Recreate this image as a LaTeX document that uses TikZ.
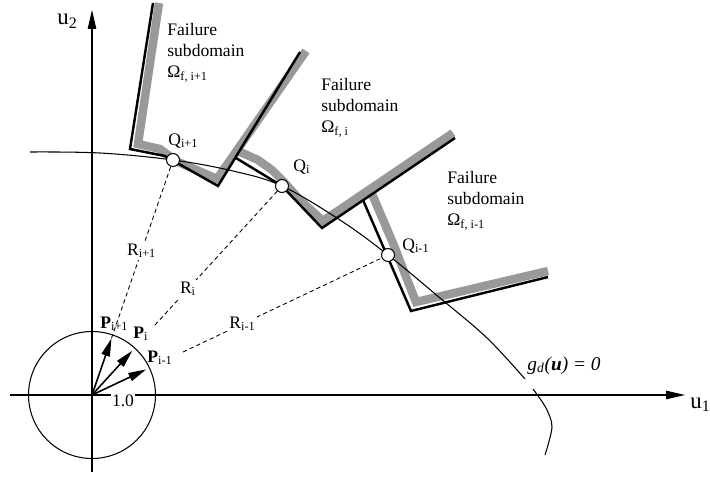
\documentclass[tikz,border=0pt]{standalone}
\usepackage{fontspec}
\setmainfont{Liberation Serif}
\usetikzlibrary{arrows.meta}

\begin{document}
\begin{tikzpicture}[
  x=0.02cm, y=-0.02cm,
  axis/.style={-{Triangle[length=3.8mm,width=1.7mm]}, line width=0.6pt},
  band/.style={line width=4.8pt, black!40},
  edge/.style={line width=1.4pt},
  lsf/.style={line width=0.6pt},
  rline/.style={dash pattern=on 2.4pt off 1.8pt, line width=0.5pt},
  rlab/.style={fill=white, inner sep=1pt},
  pvec/.style={-{Triangle[length=3.6mm,width=1.7mm]}, line width=0.9pt},
  qpt/.style={circle, draw, fill=white, minimum size=0.26cm, inner sep=0pt, line width=0.6pt},
  sublab/.style={anchor=north west, align=left, inner sep=0pt, font=\fontsize{10}{12}\selectfont},
  ptlab/.style={anchor=base west, inner sep=0pt},
  axlab/.style={anchor=base west, inner sep=0pt, font=\fontsize{13}{15}\selectfont}
]
\useasboundingbox (0,0) rectangle (710,490);

% axes
\coordinate (O) at (92,395);
\coordinate (xl) at (10,395);
\coordinate (xr) at (685,395);
\coordinate (yb) at (92,472);
\coordinate (yt) at (92,10);
\draw[axis] (xl) -- (xr);
\draw[axis] (yb) -- (yt);
\node[axlab] (u1) at (690,408) {u\textsubscript{1}};
\node[axlab] (u2) at (57,25) {u\textsubscript{2}};

% unit circle
\draw[lsf] (O) circle[radius=1.27cm];
\node[fill=white, inner sep=0.5pt] (one) at (123,401) {1.0};

% failure subdomains
\draw[band] (159,3) -- (138,144) -- (160,149) -- (176,161) -- (217,179) -- (306,51);
\draw[band] (238,151) -- (258,160) -- (272,170) -- (283,181) -- (300,200) -- (323,221) -- (453,133);
\draw[band] (372,194) -- (384,222) -- (395,248) -- (405,274) -- (416,302) -- (548,271);
\draw[edge] (153,3) -- (130,149) -- (165,156) -- (218,186) -- (300,52);
\draw[edge] (236,158) -- (282,186) -- (322,228) -- (455,138);
\draw[edge] (363,200) -- (411,311) -- (548,277);

% limit state surface
\draw[lsf] plot[smooth, tension=0.6] coordinates {(30,152) (100,153) (173,160) (233,171) (282,186) (340,220) (388,255) (440,298) (487,338) (525,379)};
\draw[lsf] plot[smooth] coordinates {(533,389) (546,408) (552,427) (545,455)};
\node[ptlab, font=\fontsize{11}{13}\selectfont] (glab) at (527,370) {\itshape g\textsubscript{d}(\textbf{u}) = 0};

% design points
\node[qpt] (Qnext) at (173,160) {};
\node[qpt] (Qi) at (282,186) {};
\node[qpt] (Qprev) at (388,255) {};
\node[ptlab] (Qnextlab) at (168,145) {Q\textsubscript{i+1}};
\node[ptlab] (Qilab) at (293,171) {Q\textsubscript{i}};
\node[ptlab] (Qprevlab) at (402,250) {Q\textsubscript{i-1}};

% directions
\coordinate (Pnext) at (111.5,338.3);
\coordinate (Pi) at (132.4,350.6);
\coordinate (Pprev) at (146.2,369.4);
\draw[pvec] (O) -- (Pnext);
\draw[pvec] (O) -- (Pi);
\draw[pvec] (O) -- (Pprev);
\node[ptlab] (Pnextlab) at (100,328) {\textbf{P}\textsubscript{i+1}};
\node[ptlab] (Pilab) at (133,338) {\textbf{P}\textsubscript{i}};
\node[ptlab] (Pprevlab) at (147,362) {\textbf{P}\textsubscript{i-1}};

% distances
\coordinate (Ri0) at (155,325);
\coordinate (Rprev0) at (183,352);
\draw[rline] (Pnext) -- node[rlab, pos=0.51] {R\textsubscript{i+1}} (Qnext);
\draw[rline] (Ri0) -- node[rlab, pos=0.27] {R\textsubscript{i}} (Qi);
\draw[rline] (Rprev0) -- node[rlab, pos=0.30] {R\textsubscript{i-1}} (Qprev);

% labels
\node[sublab] (Fnext) at (167,23) {Failure\\subdomain\\Ω\textsubscript{f, i+1}};
\node[sublab] (Fi) at (321,78) {Failure\\subdomain\\Ω\textsubscript{f, i}};
\node[sublab] (Fprev) at (447,171) {Failure\\subdomain\\Ω\textsubscript{f, i-1}};
\end{tikzpicture}
\end{document}
